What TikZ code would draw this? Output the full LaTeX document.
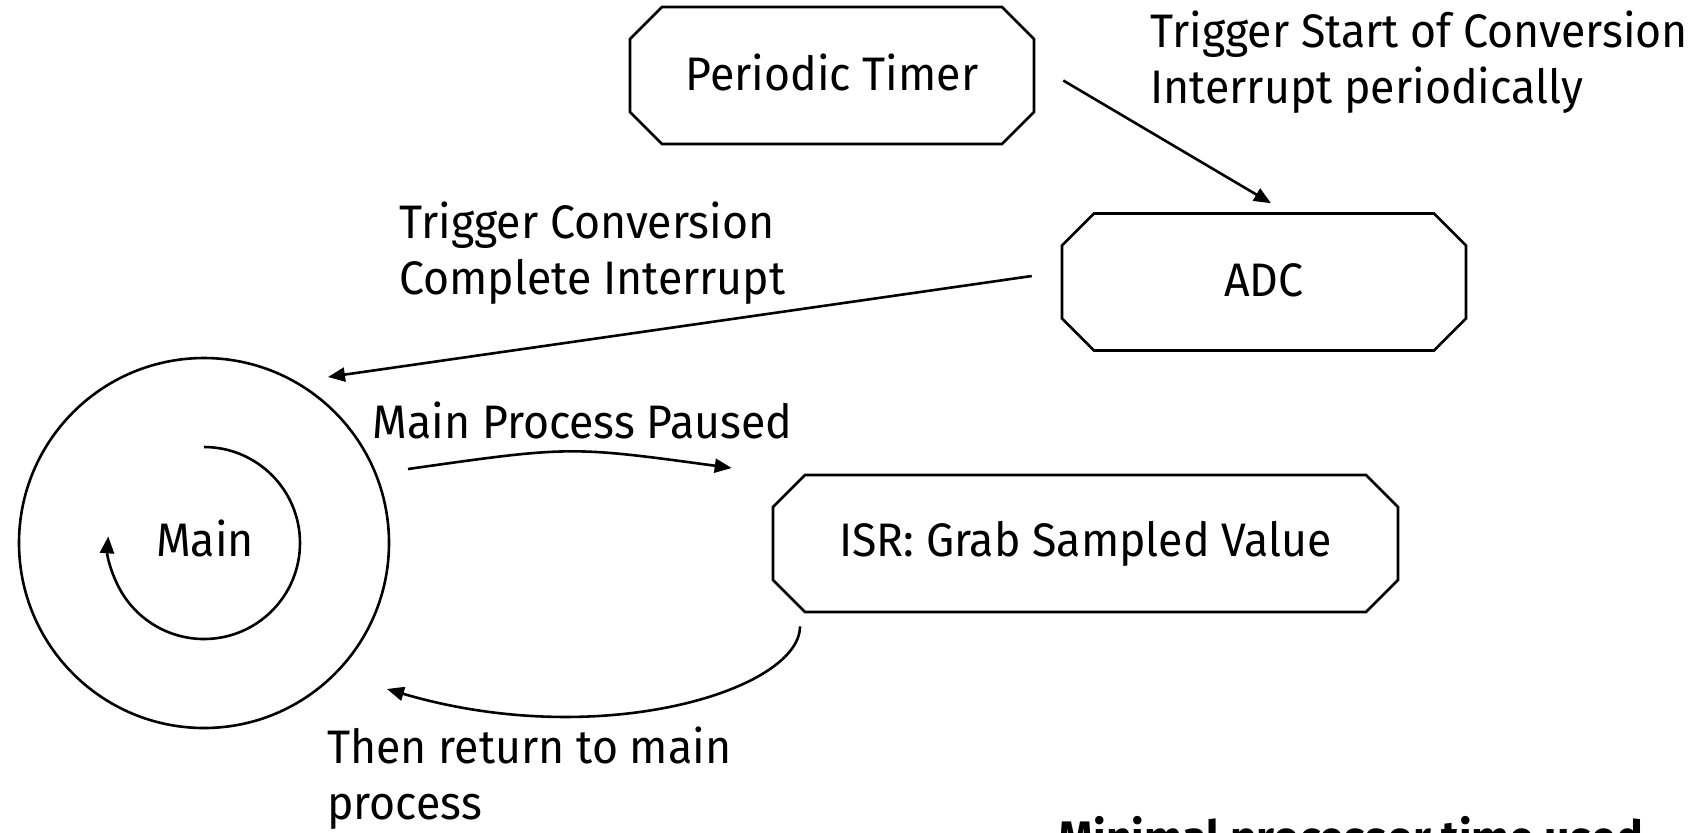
\documentclass[tikz,border=0pt]{standalone}
\usepackage{fontspec}
\setmainfont{Fira Sans}[FakeStretch=0.95]
\usetikzlibrary{shapes.misc,arrows.meta,calc}
\begin{document}
\begin{tikzpicture}[x=0.5pt,y=-0.5pt,
  every node/.style={font=\fontsize{23.5}{28}\selectfont},
  block/.style={draw, line width=1.3pt, chamfered rectangle, chamfered rectangle sep=8pt,
    minimum height=68.5pt, inner sep=0pt},
  link/.style={line width=1.3pt, -{Triangle[length=8.5pt,width=7pt]}},
  note/.style={anchor=base west, align=left, inner sep=0pt}]
\useasboundingbox (0,0) rectangle (1701,832);

% processing blocks
\node[block, minimum width=202pt] (timer) at (832,75.5) {\raisebox{3pt}{Periodic Timer}};
\node[block, minimum width=202pt] (adc) at (1264,282) {\raisebox{2pt}{ADC}};
\node[block, minimum width=312.5pt] (isr) at (1085.5,543.5) {ISR: Grab Sampled Value};
\node[circle, draw, line width=1.3pt, minimum size=185pt, inner sep=0pt] (main) at (204,543) {};
\node[anchor=base, inner sep=0pt] (mainlbl) at (205,556) {Main};

% main loop indicator
\draw[link] ($(main.center)+(0,-96)$) arc[start angle=90, end angle=-184, radius=48pt];

% interrupt flow
\draw[link] ($(timer.east)+(28,5)$) -- ($(adc.north)+(7,-9)$);
\draw[link] ($(adc.west)+(-29,-6)$) -- ($(main.center)+(124,-166)$);
\draw[link] ($(main.center)+(204,-74)$) .. controls (570,446) .. ($(isr.west)+(-40,-75.5)$);
\draw[link] ($(isr.south)+(-285.5,13)$) .. controls (800,690) and (600,752) .. ($(main.center)+(183,146)$);

% annotations (anchored at the baseline of the last line)
\node[note] (tsc) at (1150,103) {Trigger Start of Conversion\\Interrupt periodically};
\node[note] (tcc) at (399,294) {Trigger Conversion\\Complete Interrupt};
\node[note] (mpp) at (372,438) {Main Process Paused};
\node[note] (ret) at (327,819) {Then return to main\\process};
\node[note, font=\fontsize{23.5}{28}\selectfont\bfseries] (mpt) at (1058,854) {Minimal processor time used};
\end{tikzpicture}
\end{document}
